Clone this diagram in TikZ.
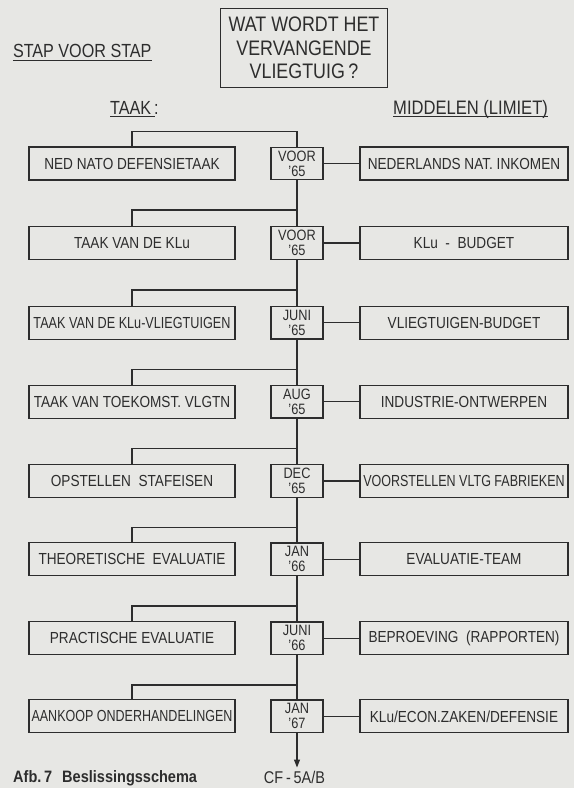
\documentclass[tikz,border=0pt]{standalone}
\usepackage{fontspec}
\usepackage{graphicx}
\setmainfont{Liberation Sans}[FakeStretch=0.85]
\newfontfamily\capfont{Liberation Sans}[FakeStretch=0.88]
\usetikzlibrary{arrows.meta}
\definecolor{paper}{RGB}{231,231,228}
\definecolor{ink}{RGB}{45,45,45}
\tikzset{
  box/.style={draw=ink, line width=1.2pt, inner sep=0pt, text=ink, font=\fontsize{16}{16}\selectfont},
  taskbox/.style={box, minimum width=206pt, minimum height=33pt},
  datebox/.style={box, minimum width=52pt, minimum height=32.5pt, align=center, font=\fontsize{15}{15}\selectfont},
  resbox/.style={box, minimum width=208pt, minimum height=33pt},
  titlebox/.style={box, minimum width=166.6pt, minimum height=79.4pt, align=center, font=\fontsize{21}{23.5}\selectfont},
  conn/.style={draw=ink, line width=1.2pt},
  lbl/.style={text=ink, inner sep=0pt},
}
\begin{document}
\begin{tikzpicture}[x=1pt,y=-1pt]
\fill[paper] (0,0) rectangle (574,788);
\useasboundingbox (0,0) rectangle (574,788);

% header
\node[titlebox] (T) at (304,48) {WAT WORDT HET\\VERVANGENDE\\VLIEGTUIG\,?};
\node[lbl, anchor=base west, font=\fontsize{19}{19}\selectfont] (stap) at (12.8,57.3) {STAP VOOR STAP};
\draw[conn, line width=1pt] (12.8,60) -- (152,60);
\node[lbl, anchor=base west, font=\fontsize{19}{19}\selectfont] (taak) at (110,114) {TAAK\hspace{3pt}:};
\draw[conn, line width=1pt] (110,116.5) -- (155,116.5);
\node[lbl, anchor=base west, font=\fontsize{19.5}{19.5}\selectfont] (midd) at (393,114) {MIDDELEN (LIMIET)};
\draw[conn, line width=1pt] (393,116.5) -- (548,116.5);

% rows
\node[taskbox] (L1) at (132,163.5) {NED NATO DEFENSIETAAK};
\node[datebox] (D1) at (297,163.5) {VOOR\\'65};
\node[resbox]  (R1) at (464,163.5) {NEDERLANDS NAT. INKOMEN};

\node[taskbox] (L2) at (132,243) {TAAK VAN DE KLu};
\node[datebox] (D2) at (297,243) {VOOR\\'65};
\node[resbox]  (R2) at (464,243) {KLu \ - \ BUDGET};

\node[taskbox] (L3) at (132,322.8) {\scalebox{0.93}[1]{TAAK VAN DE KLu-VLIEGTUIGEN}};
\node[datebox] (D3) at (297,322.8) {JUNI\\'65};
\node[resbox]  (R3) at (464,322.8) {VLIEGTUIGEN-BUDGET};

\node[taskbox] (L4) at (132,401.8) {TAAK VAN TOEKOMST. VLGTN};
\node[datebox] (D4) at (297,401.8) {AUG\\'65};
\node[resbox]  (R4) at (464,401.8) {INDUSTRIE-ONTWERPEN};

\node[taskbox] (L5) at (132,481) {OPSTELLEN \ STAFEISEN};
\node[datebox] (D5) at (297,481) {DEC\\'65};
\node[resbox]  (R5) at (464,481) {\scalebox{0.92}[1]{VOORSTELLEN VLTG FABRIEKEN}};

\node[taskbox] (L6) at (132,559.3) {THEORETISCHE \ EVALUATIE};
\node[datebox] (D6) at (297,559.3) {JAN\\'66};
\node[resbox]  (R6) at (464,559.3) {EVALUATIE-TEAM};

\node[taskbox] (L7) at (132,638.3) {PRACTISCHE EVALUATIE};
\node[datebox] (D7) at (297,638.3) {JUNI\\'66};
\node[resbox]  (R7) at (464,638.3) {BEPROEVING \ (RAPPORTEN)};

\node[taskbox] (L8) at (132,716.3) {\scalebox{0.92}[1]{AANKOOP ONDERHANDELINGEN}};
\node[datebox] (D8) at (297,716.3) {JAN\\'67};
\node[resbox]  (R8) at (464,716.3) {KLu/ECON.ZAKEN/DEFENSIE};

% branch points on the trunk
\coordinate (b1) at (297,131.7);
\coordinate (b2) at (297,210);
\coordinate (b3) at (297,290);
\coordinate (b4) at (297,369.3);
\coordinate (b5) at (297,448.3);
\coordinate (b6) at (297,527.3);
\coordinate (b7) at (297,606);
\coordinate (b8) at (297,685);
\coordinate (endc) at (297,767.5);

\draw[conn] (L1.north) |- (b1) -- (D1.north);
\foreach \i in {2,...,8}{
  \draw[conn] (L\i.north) |- (b\i);
}
\foreach \i/\j in {1/2,2/3,3/4,4/5,5/6,6/7,7/8}{
  \draw[conn] (D\i.south) -- (D\j.north);
}
\foreach \i in {1,...,8}{
  \draw[conn] (D\i.east) -- (R\i.west);
}
\draw[conn, -{Triangle[width=6pt,length=8pt]}] (D8.south) -- (endc);
\node[lbl, anchor=base, font=\fontsize{17}{17}\selectfont] (cf) at (294.5,783.5) {CF\,-\,5A/B};

% caption
\node[lbl, anchor=base west, font=\capfont\bfseries\fontsize{16.5}{16.5}\selectfont] (cap) at (13,782) {Afb.\,7\hspace{10pt}Beslissingsschema};
\end{tikzpicture}
\end{document}
